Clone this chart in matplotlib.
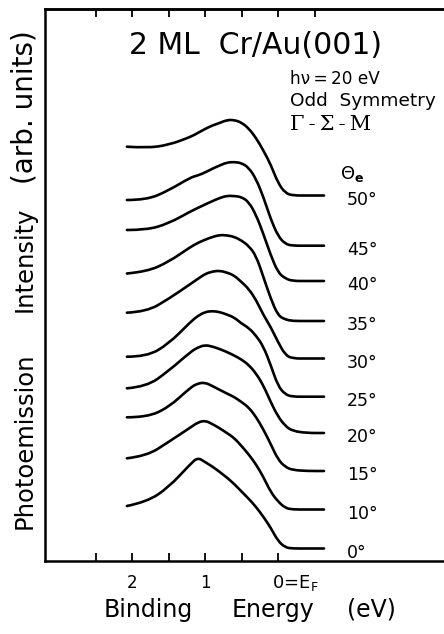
import matplotlib
matplotlib.use("Agg")
import matplotlib.pyplot as plt
from matplotlib.path import Path
from matplotlib.patches import PathPatch

# ---------------- data ----------------
energy = [2.07, 1.8, 1.5, 1.2, 1.1, 1.0, 0.9, 0.8, 0.7, 0.6, 0.5, 0.4, 0.3,
          0.2, 0.1, 0.0, -0.1, -0.2, -0.4, -0.63]

angle_labels = ["50°", "45°", "40°", "35°", "30°", "25°", "20°", "15°", "10°", "0°"]

# vertical offset (baseline above E_F) of each spectrum, arb. units
offsets = [36.55, 31.53, 28.0, 24.0, 20.25, 16.43, 12.8, 9.0, 5.15, 1.25]

int_50 = [4.88, 4.75, 5.05, 5.85, 6.25, 6.65, 7.00, 7.25, 7.55, 7.55, 7.30, 6.70, 5.75, 4.50, 3.10, 1.25, 0.25, 0, 0, 0]
int_45 = [4.57, 4.57, 5.52, 6.82, 7.02, 7.32, 7.70, 8.02, 8.32, 8.37, 8.27, 7.80, 6.67, 4.87, 2.67, 0.97, 0.17, 0, 0, 0]
int_40 = [5.10, 5.10, 5.75, 6.95, 7.30, 7.65, 7.98, 8.30, 8.52, 8.50, 8.40, 7.90, 6.60, 4.70, 2.60, 0.85, 0.25, 0, 0, 0]
int_35 = [4.75, 4.93, 5.90, 7.40, 7.80, 8.13, 8.40, 8.60, 8.57, 8.42, 8.05, 7.50, 6.52, 4.40, 2.25, 0.55, 0.15, 0, 0, 0]
int_30 = [4.58, 4.68, 5.95, 7.45, 7.95, 8.45, 8.70, 8.78, 8.60, 8.30, 7.65, 6.95, 5.85, 4.35, 3.15, 1.65, 0.35, 0, 0, 0]
int_25 = [4.00, 4.00, 5.27, 7.47, 8.07, 8.47, 8.57, 8.47, 8.22, 7.92, 7.32, 6.87, 6.10, 5.02, 3.17, 1.07, 0.22, 0, 0, 0]
int_20 = [4.47, 4.63, 6.20, 8.10, 8.55, 8.80, 8.65, 8.40, 8.10, 7.75, 7.35, 6.80, 5.95, 4.75, 3.10, 1.65, 0.70, 0.20, 0, 0]
int_15 = [5.37, 5.37, 6.35, 8.35, 8.75, 8.85, 8.50, 8.12, 7.75, 7.40, 6.90, 6.35, 5.40, 4.15, 2.70, 1.15, 0.40, 0.10, 0, 0]
int_10 = [5.12, 5.35, 6.75, 8.20, 8.70, 8.90, 8.55, 8.13, 7.65, 7.15, 6.35, 5.50, 4.50, 3.25, 1.75, 0.80, 0.15, 0, 0, 0]
int_00 = [4.25, 4.65, 6.10, 8.45, 9.10, 8.65, 8.20, 7.66, 7.10, 6.45, 5.70, 4.97, 4.15, 3.17, 2.08, 0.75, 0.10, 0, 0, 0]

spectra = [int_50, int_45, int_40, int_35, int_30, int_25, int_20, int_15, int_10, int_00]

bottom_ticks = [2.5, 2.0, 1.5, 1.0, 0.5, 0.0]
bottom_ticklabels = ["", "2", "", "1", "", ""]
top_ticks = [2.5, 2.0, 1.5, 1.0, 0.5, 0.0, -0.5]


def smooth_path(xs, ys):
    """Quadratic-Bezier path using the data points as control points."""
    verts = [(xs[0], ys[0])]
    codes = [Path.MOVETO]
    for i in range(1, len(xs) - 1):
        mx = 0.5 * (xs[i] + xs[i + 1])
        my = 0.5 * (ys[i] + ys[i + 1])
        verts += [(xs[i], ys[i]), (mx, my)]
        codes += [Path.CURVE3, Path.CURVE3]
    verts.append((xs[-1], ys[-1]))
    codes.append(Path.LINETO)
    return Path(verts, codes)


# ---------------- figure ----------------
W, H = 444, 634
fig = plt.figure(figsize=(W / 100, H / 100), dpi=100)
left_px, bottom_px, top_px = 44.5, 561, 9
ax = fig.add_axes([left_px / W, 1 - bottom_px / H, (W - left_px) / W, (bottom_px - top_px) / H])

px_per_eV = 73.0
x_zero = 278.0
ax.set_xlim((x_zero - left_px) / px_per_eV, (x_zero - W) / px_per_eV)
ax.set_ylim(0, (bottom_px - top_px) / 10.0)

for off, spec, lab in zip(offsets, spectra, angle_labels):
    ys = [off + v for v in spec]
    ax.add_patch(PathPatch(smooth_path(energy, ys), facecolor="none",
                           edgecolor="black", lw=1.9, joinstyle="round",
                           capstyle="round"))
    ax.text(-0.945, off - 0.95, lab, fontsize=12.5, ha="left", va="baseline",
            family="DejaVu Sans")

for s in ["left", "bottom", "top"]:
    ax.spines[s].set_linewidth(1.8)
ax.spines["right"].set_visible(False)

ax.set_yticks([])
ax.set_xticks(bottom_ticks)
ax.set_xticklabels(bottom_ticklabels, fontsize=12, family="DejaVu Sans")
ax.tick_params(axis="x", direction="in", length=6, width=1.3, pad=9)
ax.text(0.085, -1.2, r"0=E$_\mathrm{F}$", fontsize=13, ha="left", va="top",
        family="DejaVu Sans")

sec = ax.secondary_xaxis("top")
sec.set_xticks(top_ticks)
sec.tick_params(direction="in", length=6, width=1.3, labeltop=False)
sec.spines["top"].set_linewidth(1.8)

# title and annotations
fig.text(255 / W, 1 - 45 / H, "2 ML  Cr/Au(001)", fontsize=21.5, ha="center",
         va="center", family="DejaVu Sans")
fig.text(290 / W, 1 - 79 / H, "hν\u2009=\u200920 eV", fontsize=12.2, ha="left",
         va="center", family="DejaVu Sans")
fig.text(290 / W, 1 - 101 / H, "Odd  Symmetry", fontsize=13.3, ha="left", va="center",
         family="DejaVu Sans")
fig.text(290 / W, 1 - 124 / H, "Γ\u2009-\u2009Σ\u2009-\u2009M", fontsize=15,
         ha="left", va="center", family="DejaVu Serif")
fig.text(352 / W, 1 - 174 / H, r"$\Theta_\mathbf{e}$", fontsize=13, ha="center",
         va="center")

# axis labels (split words as in the reference)
fig.text(148 / W, 1 - 610 / H, "Binding", fontsize=17, ha="center", va="center",
         family="DejaVu Sans")
fig.text(273 / W, 1 - 610 / H, "Energy", fontsize=17, ha="center", va="center",
         family="DejaVu Sans")
fig.text(371 / W, 1 - 610 / H, "(eV)", fontsize=17, ha="center", va="center",
         family="DejaVu Sans")
fig.text(25 / W, 1 - 441 / H, "Photoemission", fontsize=17.5, rotation=90,
         ha="center", va="center", family="DejaVu Sans")
fig.text(25 / W, 1 - 259 / H, "Intensity", fontsize=17.5, rotation=90,
         ha="center", va="center", family="DejaVu Sans")
fig.text(25 / W, 1 - 107 / H, "(arb. units)", fontsize=20, rotation=90,
         ha="center", va="center", family="DejaVu Sans")

fig.savefig("out.png", dpi=100)
